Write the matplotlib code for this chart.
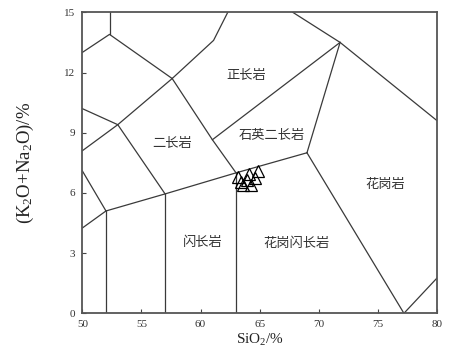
import matplotlib
matplotlib.use("Agg")
import matplotlib.pyplot as plt
import numpy as np

plt.rcParams["mathtext.fontset"] = "custom"
plt.rcParams["mathtext.rm"] = "Liberation Serif"
plt.rcParams["mathtext.it"] = "Liberation Serif:italic"

# ---- data ----
# field boundary polylines (SiO2, K2O+Na2O)
b_top_left_v = [(52.3, 15.0), (52.3, 13.9)]
b_top_left_a = [(50.0, 13.0), (52.3, 13.9), (57.6, 11.7)]
b_syenite_left = [(62.3, 15.0), (61.1, 13.6), (57.6, 11.7)]
b_monzo_upper = [(50.0, 8.1), (53.0, 9.4), (57.6, 11.7)]
b_mzd_upper = [(50.0, 10.2), (53.0, 9.4), (57.0, 5.95)]
b_mzd_left = [(50.0, 7.1), (52.0, 5.1)]
b_gab = [(50.0, 4.25), (52.0, 5.1)]
b_lower = [(52.0, 5.1), (57.0, 5.95), (63.0, 7.0), (69.0, 8.0)]
b_v52 = [(52.0, 0.0), (52.0, 5.1)]
b_v57 = [(57.0, 0.0), (57.0, 5.95)]
b_v63 = [(63.0, 0.0), (63.0, 7.0)]
b_monz_qm = [(57.6, 11.7), (61.0, 8.65), (63.0, 7.0)]
b_syen_qm = [(61.0, 8.65), (71.8, 13.5)]
b_gd_gr = [(69.0, 8.0), (71.8, 13.5)]
b_gr_low = [(69.0, 8.0), (77.2, 0.0), (80.0, 1.76)]
b_gr_top = [(67.8, 15.0), (71.8, 13.5), (80.0, 9.6)]

boundaries = [b_top_left_v, b_top_left_a, b_syenite_left, b_monzo_upper,
              b_mzd_upper, b_mzd_left, b_gab, b_lower, b_v52, b_v57, b_v63,
              b_monz_qm, b_syen_qm, b_gd_gr, b_gr_low, b_gr_top]

# samples
sio2 = [63.2, 64.1, 64.9, 63.55, 64.3, 63.9, 63.4, 64.6]
alk = [6.8, 6.95, 7.1, 6.4, 6.4, 6.65, 6.55, 6.75]

# field labels
field_names = ["正长岩", "石英二长岩", "二长岩", "花岗岩", "闪长岩", "花岗闪长岩"]
field_x = [63.9, 66.0, 57.6, 75.6, 60.2, 68.1]
field_y = [11.85, 8.85, 8.45, 6.4, 3.55, 3.5]

xticks = [50, 55, 60, 65, 70, 75, 80]
yticks = [0, 3, 6, 9, 12, 15]

# ---- plot ----
fig = plt.figure(figsize=(4.64, 3.6), dpi=100)
ax = fig.add_axes([0.1774, 0.1297, 0.7645, 0.8361])

for seg in boundaries:
    arr = np.array(seg)
    ax.plot(arr[:, 0], arr[:, 1], color="#3a3a3a", lw=0.9, clip_on=True)

ax.plot(sio2, alk, linestyle="none", marker="^", markersize=9,
        markerfacecolor="none", markeredgecolor="black", markeredgewidth=0.9)

for n, x, y in zip(field_names, field_x, field_y):
    ax.text(x, y, n, ha="center", va="center", fontsize=9.5,
            family=["Noto Sans CJK SC", "DejaVu Sans"], color="#333333")

ax.set_xlim(50, 80)
ax.set_ylim(0, 15)
ax.set_xticks(xticks)
ax.set_yticks(yticks)
ax.tick_params(direction="in", length=3, width=0.8, colors="#444444",
               labelsize=8, pad=5)
for lab in ax.get_xticklabels() + ax.get_yticklabels():
    lab.set_family("Liberation Serif")
    lab.set_color("#333333")
for s in ax.spines.values():
    s.set_color("#555555")
    s.set_linewidth(1.3)

ax.set_xlabel("SiO$_2$/%", fontsize=11, family="Liberation Serif",
              color="#222222", labelpad=2)
ax.set_ylabel("(K$_2$O+Na$_2$O)/%", fontsize=13.5, family="Liberation Serif",
              color="#222222", labelpad=20)

fig.savefig("out.png", dpi=100)
